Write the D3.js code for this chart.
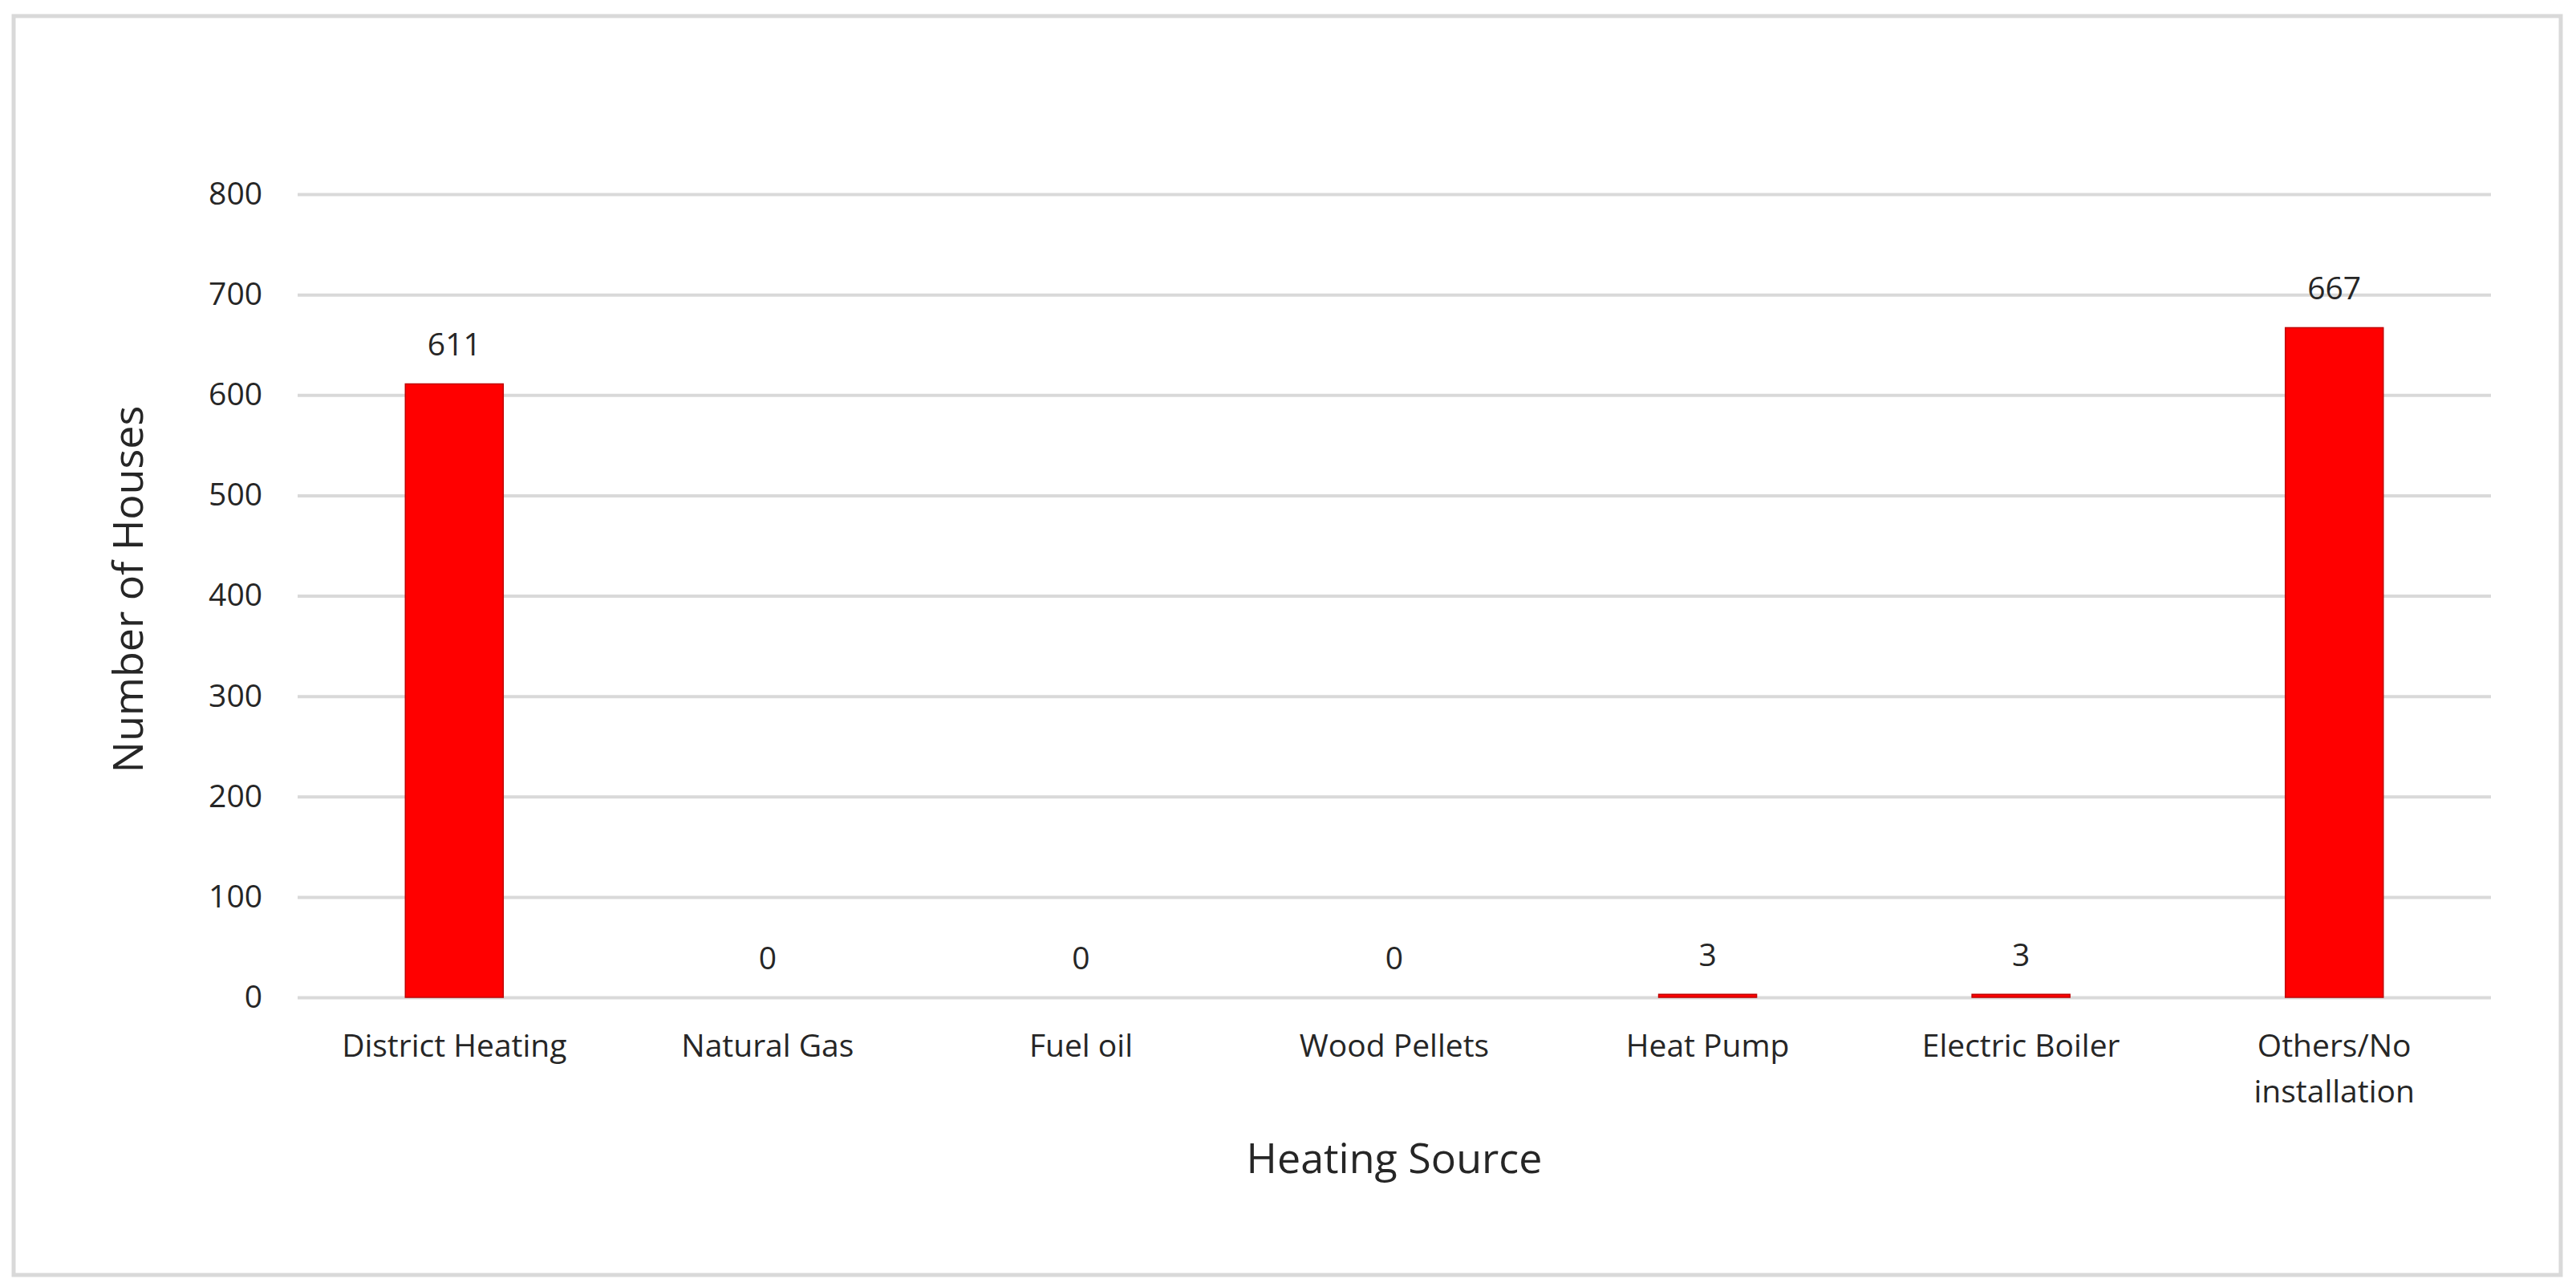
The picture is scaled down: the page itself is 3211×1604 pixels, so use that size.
<!DOCTYPE html>
<html>
<head>
<meta charset="utf-8">
<script src="https://cdn.jsdelivr.net/npm/d3@7/dist/d3.min.js"></script>
<style>
  html, body { margin: 0; padding: 0; background: #ffffff; }
  svg { display: block; }
  text { font-family: "Open Sans", "Noto Sans", "Liberation Sans", sans-serif; fill: #262626; }
</style>
</head>
<body>
<svg id="chart" width="3211" height="1604"></svg>
<script>
const categories = ["District Heating", "Natural Gas", "Fuel oil", "Wood Pellets", "Heat Pump", "Electric Boiler", "Others/No installation"];
const houses = [611, 0, 0, 0, 3, 3, 667];
const yTicks = [0, 100, 200, 300, 400, 500, 600, 700, 800];
const xTitle = "Heating Source";
const yTitle = "Number of Houses";

const W = 3211, H = 1604;
const plot = { left: 371, right: 3105, top: 242, bottom: 1243 };

const svg = d3.select("#chart");

// outer chart border
svg.append("rect")
  .attr("x", 17).attr("y", 20)
  .attr("width", 3192 - 17).attr("height", 1589 - 20)
  .attr("fill", "#ffffff")
  .attr("stroke", "#d9d9d9")
  .attr("stroke-width", 5);

const pad = 0.6876;
const x = d3.scaleBand()
  .domain(categories)
  .range([plot.left, plot.right])
  .paddingInner(pad)
  .paddingOuter(pad / 2);

const y = d3.scaleLinear()
  .domain([0, 800])
  .range([plot.bottom, plot.top]);

// gridlines
const grid = svg.append("g")
  .attr("transform", `translate(${plot.left},0)`)
  .call(d3.axisLeft(y).tickValues(yTicks).tickSize(-(plot.right - plot.left)).tickFormat(""));
grid.select(".domain").remove();
grid.selectAll(".tick line").attr("stroke", "#d9d9d9").attr("stroke-width", 4);

// y tick labels
const yAxis = svg.append("g")
  .attr("transform", `translate(${plot.left},0)`)
  .call(d3.axisLeft(y).tickValues(yTicks).tickSize(0).tickPadding(44).tickFormat(d3.format("d")));
yAxis.select(".domain").remove();
yAxis.selectAll("text")
  .style("font-size", "39px")
  .attr("fill", "#262626")
  .attr("font-family", null);

// bars
svg.append("g").selectAll("rect")
  .data(categories)
  .join("rect")
  .attr("x", d => x(d))
  .attr("width", x.bandwidth())
  .attr("y", (d, i) => y(houses[i]))
  .attr("height", (d, i) => y(0) - y(houses[i]))
  .attr("fill", "#ff0000")
  .attr("stroke", "#c00000")
  .attr("stroke-width", 1.5);

// value labels
svg.append("g").selectAll("text")
  .data(categories)
  .join("text")
  .attr("x", d => x(d) + x.bandwidth() / 2)
  .attr("y", (d, i) => y(houses[i]) - 35)
  .attr("text-anchor", "middle")
  .style("font-size", "39px")
  .text((d, i) => houses[i]);

// x category labels
const xAxis = svg.append("g")
  .attr("transform", `translate(0,${plot.bottom})`)
  .call(d3.axisBottom(x).tickSize(0).tickPadding(0));
xAxis.select(".domain").remove();
xAxis.selectAll("text")
  .attr("font-family", null)
  .style("font-size", "39px")
  .attr("fill", "#262626")
  .attr("dy", null)
  .attr("y", 74)
  .each(function () {
    const t = d3.select(this);
    const words = t.text().split(/\s+/);
    const maxW = x.step() * 0.95;
    t.text(null);
    let line = [];
    let lineNo = 0;
    let tspan = t.append("tspan").attr("x", 0).attr("dy", 0);
    words.forEach(w => {
      line.push(w);
      tspan.text(line.join(" "));
      if (tspan.node().getComputedTextLength() > maxW && line.length > 1) {
        line.pop();
        tspan.text(line.join(" "));
        line = [w];
        lineNo++;
        tspan = t.append("tspan").attr("x", 0).attr("dy", 57).text(w);
      }
    });
  });

// axis titles
svg.append("text")
  .attr("x", (plot.left + plot.right) / 2)
  .attr("y", 1462)
  .attr("text-anchor", "middle")
  .style("font-size", "52px")
  .text(xTitle);

svg.append("text")
  .attr("transform", `translate(178,${(plot.top + plot.bottom) / 2 - 8}) rotate(-90)`)
  .attr("text-anchor", "middle")
  .style("font-size", "52px")
  .text(yTitle);
</script>
</body>
</html>
